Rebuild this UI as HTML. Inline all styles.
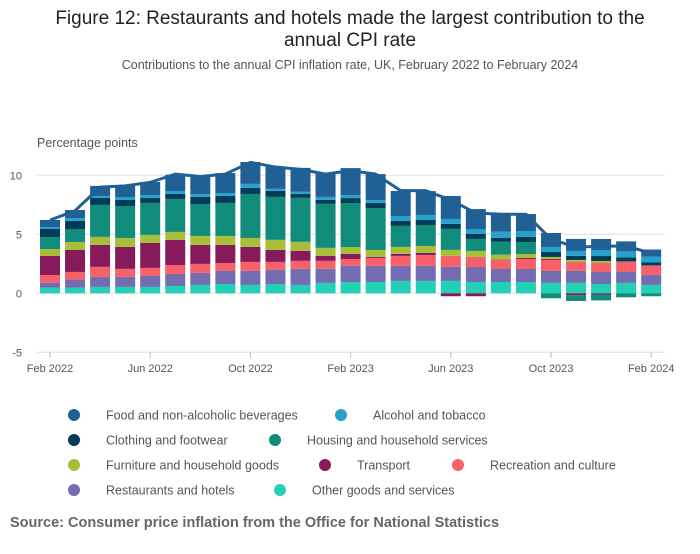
<!DOCTYPE html>
<html><head><meta charset="utf-8"><style>
body{margin:0;background:#fff;font-family:"Liberation Sans",sans-serif;}
svg text{font-family:"Liberation Sans",sans-serif;}
</style></head><body>
<svg id="chart" width="700" height="549">
<text x="350" y="24" text-anchor="middle" font-size="19" fill="#222">Figure 12: Restaurants and hotels made the largest contribution to the</text>
<text x="350" y="46" text-anchor="middle" font-size="19" fill="#222">annual CPI rate</text>
<text x="350" y="69" text-anchor="middle" font-size="12.5" fill="#555">Contributions to the annual CPI inflation rate, UK, February 2022 to February 2024</text>
<text x="37" y="147" font-size="12.5" fill="#555">Percentage points</text>
<g id="grid"></g><g id="bars"></g><g id="line"></g><g id="xaxis"></g><g id="legend"></g>
<text x="10" y="527" font-size="14.5" font-weight="bold" fill="#666">Source: Consumer price inflation from the Office for National Statistics</text>
</svg>
<script>
const months=["Feb 2022","Mar 2022","Apr 2022","May 2022","Jun 2022","Jul 2022","Aug 2022","Sep 2022","Oct 2022","Nov 2022","Dec 2022","Jan 2023","Feb 2023","Mar 2023","Apr 2023","May 2023","Jun 2023","Jul 2023","Aug 2023","Sep 2023","Oct 2023","Nov 2023","Dec 2023","Jan 2024","Feb 2024"];
const seriesNames=["Food and non-alcoholic beverages","Alcohol and tobacco","Clothing and footwear","Housing and household services","Furniture and household goods","Transport","Recreation and culture","Restaurants and hotels","Other goods and services"];
const seriesColors=["#206095","#27a0cc","#003c57","#118c7b","#a8bd3a","#871a5b","#f66068","#746cb1","#22d0b6"];
const food=[0.59,0.68,0.85,0.96,1.1,1.38,1.61,1.69,1.86,1.86,2.03,1.95,2.29,2.2,2.12,2.03,1.95,1.69,1.53,1.44,1.19,1.02,0.93,0.85,0.59];
const alcohol=[0.17,0.25,0.17,0.25,0.25,0.25,0.25,0.25,0.34,0.17,0.17,0.25,0.25,0.25,0.42,0.42,0.42,0.42,0.51,0.51,0.42,0.42,0.51,0.51,0.51];
const clothing=[0.68,0.68,0.59,0.51,0.42,0.42,0.59,0.59,0.51,0.51,0.34,0.34,0.42,0.42,0.42,0.42,0.42,0.42,0.34,0.42,0.42,0.34,0.42,0.34,0.25];
const housing=[1.02,1.1,2.71,2.71,2.71,2.8,2.71,2.8,3.73,3.64,3.73,3.73,3.73,3.56,1.78,1.78,1.78,1.02,1.1,1.02,-0.42,-0.48,-0.5,-0.34,-0.25];
const furniture=[0.59,0.68,0.68,0.76,0.68,0.68,0.76,0.76,0.76,0.85,0.76,0.68,0.59,0.59,0.59,0.59,0.51,0.51,0.42,0.34,0.17,0.17,0.17,0.02,0.02];
const transport=[1.61,1.86,1.86,1.86,2.12,2.12,1.61,1.53,1.27,1.02,0.85,0.42,0.42,0.08,0.17,0.17,-0.25,-0.25,0.03,0.08,0.08,-0.17,-0.1,0.02,0.02];
const recreation=[0.65,0.65,0.85,0.68,0.68,0.76,0.76,0.68,0.76,0.68,0.68,0.68,0.59,0.68,0.85,0.93,0.93,0.85,0.76,0.85,0.93,0.76,0.76,0.85,0.76];
const restaurants=[0.42,0.68,0.85,0.85,0.93,1.02,1.02,1.1,1.19,1.19,1.36,1.19,1.36,1.36,1.27,1.27,1.19,1.27,1.1,1.1,1.02,1.02,1.02,0.93,0.85];
const other=[0.48,0.48,0.54,0.54,0.54,0.62,0.71,0.79,0.71,0.79,0.71,0.88,0.96,0.96,1.05,1.05,1.05,0.96,0.96,0.96,0.88,0.88,0.79,0.88,0.71];
const cpi=[6.2,7.0,9.0,9.1,9.4,10.1,9.9,10.1,11.1,10.7,10.5,10.1,10.4,10.1,8.7,8.7,7.9,6.8,6.7,6.7,4.6,3.9,4.0,4.0,3.4];
const yTicks=[10,5,0,-5];
const xTickLabels=["Feb 2022","Jun 2022","Oct 2022","Feb 2023","Jun 2023","Oct 2023","Feb 2024"];
const allSeries=[food,alcohol,clothing,housing,furniture,transport,recreation,restaurants,other];
const NS="http://www.w3.org/2000/svg";
function X(i){return 50+i*25.05;}
function Y(v){return 293.3-v*11.8;}
function mk(tag,attrs,parent){const e=document.createElementNS(NS,tag);for(const k in attrs)e.setAttribute(k,attrs[k]);parent.appendChild(e);return e;}
const grid=document.getElementById('grid');
yTicks.forEach(t=>{
  const l=mk('line',{x1:37,x2:665,y1:Y(t),y2:Y(t),stroke:'#e0e0e0','stroke-width':1},grid);
  
  
  const tx=mk('text',{x:22,y:Y(t)+4,'text-anchor':'end','font-size':11,fill:'#555'},grid);
  tx.textContent=t;
  
  
});
const bars=document.getElementById('bars');
months.forEach((m,i)=>{
  let pos=0,neg=0;
  for(let s=allSeries.length-1;s>=0;s--){
    const v=allSeries[s][i];
    let y0,y1;
    if(v>=0){y0=pos;y1=pos+v;pos=y1;}else{y0=neg+v;y1=neg;neg=y0;}
    const r=mk('rect',{x:X(i)-10,width:20,y:Y(y1),height:Math.max(0,Y(y0)-Y(y1)),fill:seriesColors[s]},bars);
    
    
  }
});
const lg=document.getElementById('line');
const p=mk('polyline',{points:cpi.map((v,i)=>X(i)+','+Y(v)).join(' '),fill:'none',stroke:'#206095','stroke-width':3,'stroke-linejoin':'round'},lg);


const xa=document.getElementById('xaxis');
xTickLabels.forEach(lbl=>{
  const i=months.indexOf(lbl);
  const tk=mk('line',{x1:X(i),x2:X(i),y1:352,y2:358,stroke:'#bbb'},xa);
  
  
  const t=mk('text',{x:X(i),y:372,'text-anchor':'middle','font-size':11,fill:'#555'},xa);
  t.textContent=lbl;
  
  
});
const legPos=[[74,415],[341,415],[74,440],[275,440],[74,465],[325,465],[458,465],[74,490],[280,490]];
const leg=document.getElementById('legend');
seriesNames.forEach((n,s)=>{
  const [x,y]=legPos[s];
  const g=mk('g',{},leg);
  
  
  mk('circle',{cx:x,cy:y,r:6,fill:seriesColors[s]},g);
  const t=mk('text',{x:x+32,y:y+4.5,'font-size':12.5,fill:'#555'},g);
  t.textContent=n;
});
</script>
</body></html>
